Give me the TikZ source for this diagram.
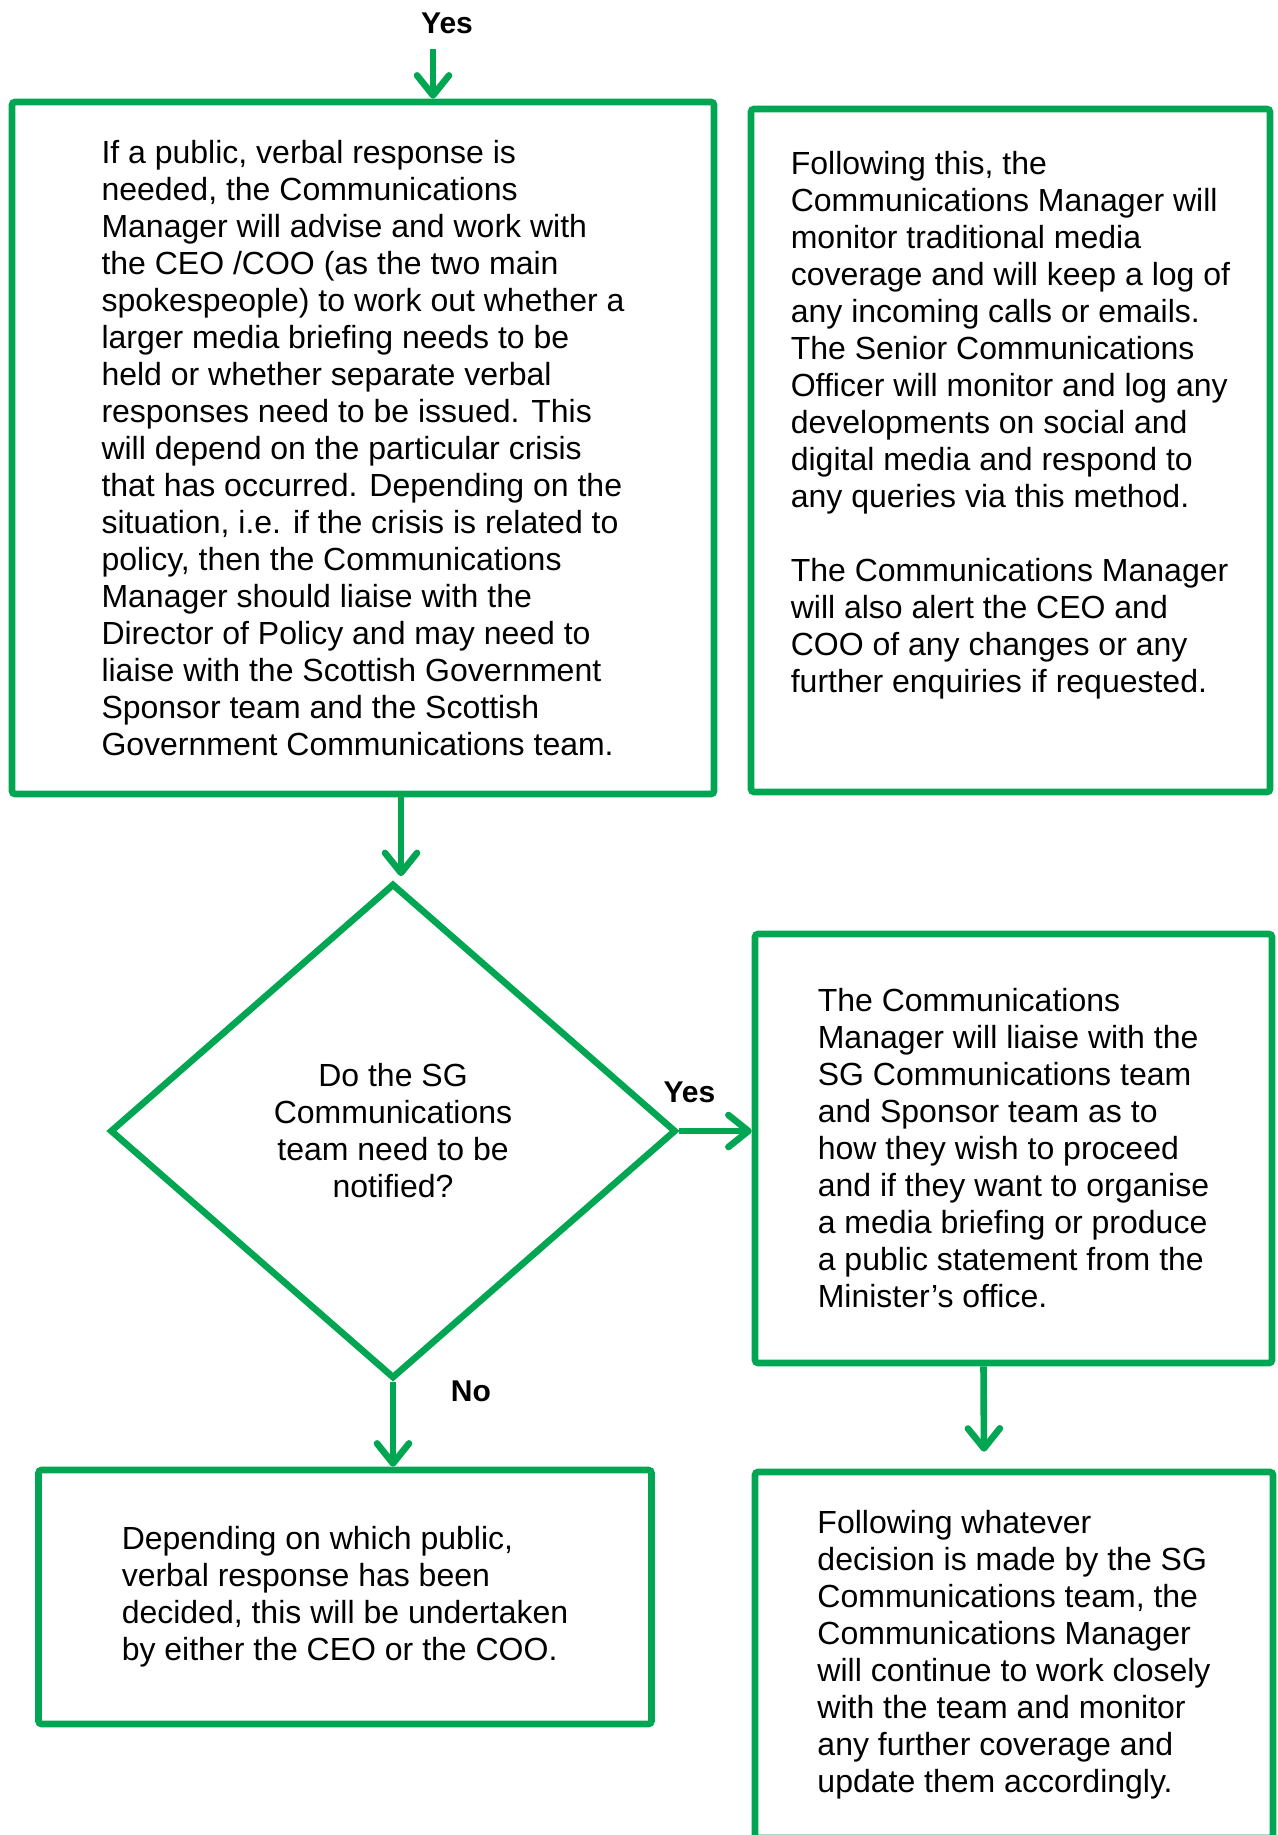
\documentclass[tikz,border=0pt]{standalone}
\usepackage{fontspec}
\setmainfont{Liberation Sans}
\usetikzlibrary{arrows.meta, shapes.geometric}

\begin{document}
\begin{tikzpicture}[x=0.5pt, y=-0.5pt, >={Straight Barb[length=10pt, width=16pt, round]}]

\definecolor{flowgreen}{RGB}{0, 166, 81}

% Page frame (the lowest box runs off the page)
\useasboundingbox (0,0) rectangle (1278,1835);
\clip (0,0) rectangle (1278,1835);

\tikzset{
    stepbox/.style={
        draw=flowgreen, line width=3.3pt, rounded corners=1.5pt,
        rectangle, align=left, inner sep=0pt,
        font=\fontsize{16pt}{18.5pt}\selectfont
    },
    decision/.style={
        draw=flowgreen, line width=3.3pt, diamond, aspect=1.15,
        align=center, inner sep=0pt,
        font=\fontsize{16pt}{18.5pt}\selectfont
    },
    flow/.style={
        draw=flowgreen, line width=3.3pt, ->
    },
    answer/.style={
        font=\bfseries\fontsize{15pt}{18pt}\selectfont
    }
}

% --- TOP: ENTRY AND FIRST RESPONSE ---

\coordinate (entry) at (433,49);
\node[answer] (yestop) at (447,23) {Yes};

\node[stepbox, minimum width=351pt, minimum height=346pt] (verbal) at (363,448) {%
If a public, verbal response is\\
needed, the Communications\\
Manager will advise and work with\\
the CEO /COO (as the two main\\
spokespeople) to work out whether a\\
larger media briefing needs to be\\
held or whether separate verbal\\
responses need to be issued. This\\
will depend on the particular crisis\\
that has occurred. Depending on the\\
situation, i.e. if the crisis is related to\\
policy, then the Communications\\
Manager should liaise with the\\
Director of Policy and may need to\\
liaise with the Scottish Government\\
Sponsor team and the Scottish\\
Government Communications team.};

\node[stepbox, minimum width=259.5pt, minimum height=341.5pt] (monitor) at (1010.5,450.5) {%
Following this, the\\
Communications Manager will\\
monitor traditional media\\
coverage and will keep a log of\\
any incoming calls or emails.\\
The Senior Communications\\
Officer will monitor and log any\\
developments on social and\\
digital media and respond to\\
any queries via this method.\\[18.5pt]
The Communications Manager\\
will also alert the CEO and\\
COO of any changes or any\\
further enquiries if requested.\\[5pt]\strut};

\draw[flow] (entry) -- (entry |- verbal.north);

% --- MIDDLE: DECISION ---

\node[decision, minimum width=283pt, minimum height=247.5pt] (notify) at (393,1131) {%
Do the SG\\
Communications\\
team need to be\\
notified?};

\node[stepbox, minimum width=258.5pt, minimum height=214.5pt] (liaise) at (1013.5,1148.5) {%
The Communications\\
Manager will liaise with the\\
SG Communications team\\
and Sponsor team as to\\
how they wish to proceed\\
and if they want to organise\\
a media briefing or produce\\
a public statement from the\\
Minister’s office.};

\draw[flow] ([xshift=4pt]verbal.south -| notify.north) -- ([xshift=4pt, yshift=2pt]notify.north);
\draw[flow] (notify.east) -- (notify.east -| liaise.west)
    node[answer, pos=0.14, above=9pt] (yesright) {Yes};

% --- BOTTOM: OUTCOMES ---

\node[stepbox, minimum width=306.5pt, minimum height=127pt] (spokes) at (345,1597) {%
Depending on which public,\\
verbal response has been\\
decided, this will be undertaken\\
by either the CEO or the COO.};

\node[stepbox, minimum width=259pt, minimum height=183pt] (followup) at (1014,1655) {%
Following whatever\\
decision is made by the SG\\
Communications team, the\\
Communications Manager\\
will continue to work closely\\
with the team and monitor\\
any further coverage and\\
update them accordingly.};

\draw[flow] (notify.south) -- (notify.south |- spokes.north)
    node[answer, pos=0.11, right=24pt] (noanswer) {No};
\draw[flow] ([xshift=-15pt]liaise.south) -- ([xshift=-15pt, yshift=8.5pt]followup.north);

\end{tikzpicture}
\end{document}
